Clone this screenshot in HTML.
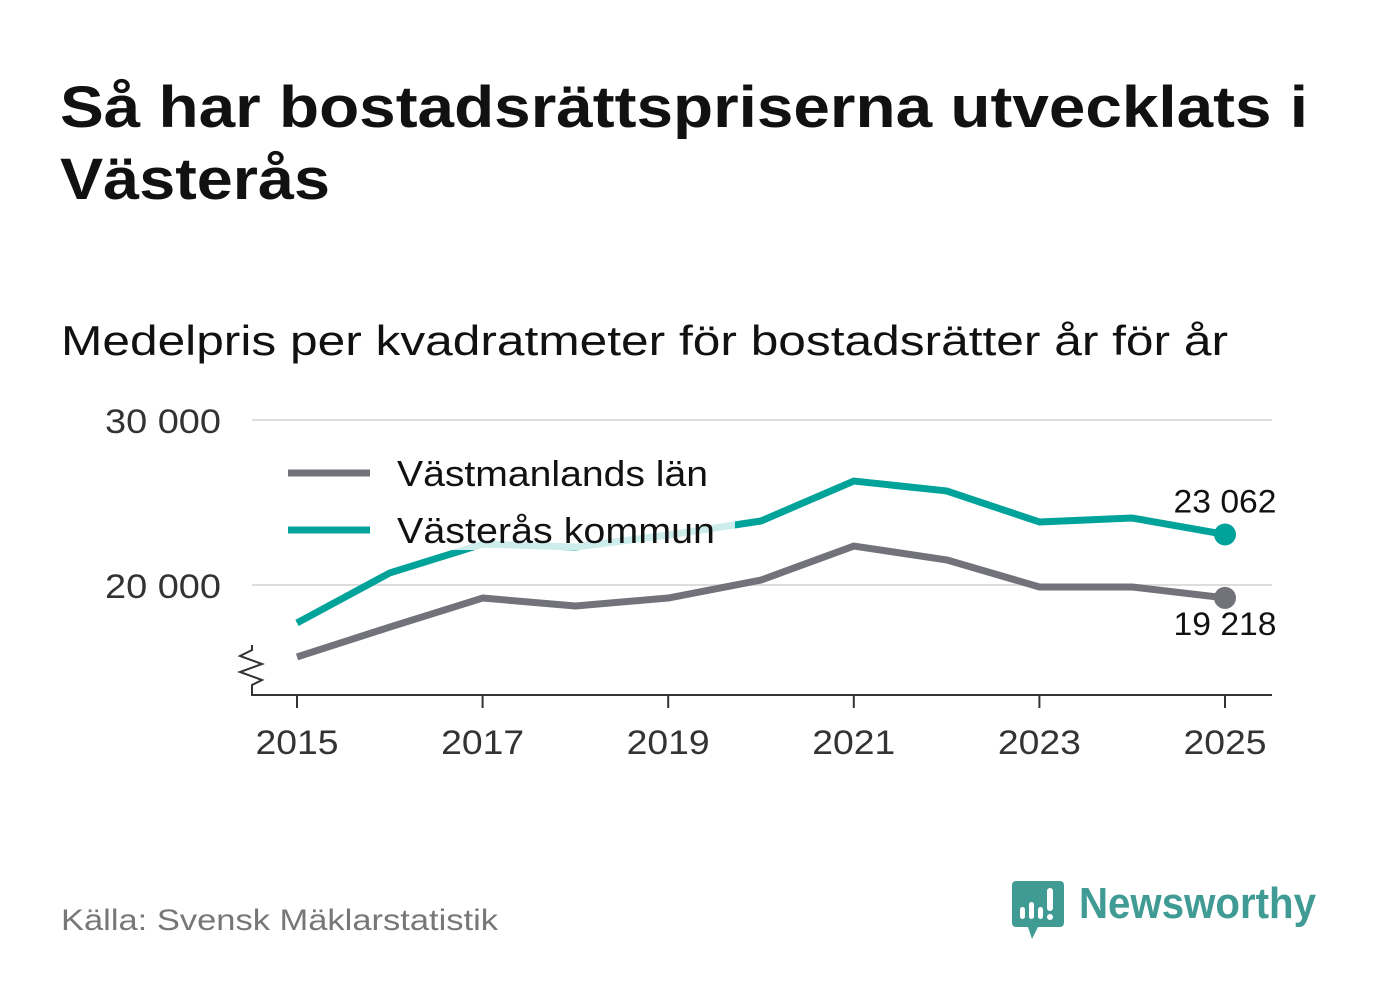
<!DOCTYPE html>
<html><head><meta charset="utf-8"><style>
body{margin:0;background:#fff;width:1382px;height:999px;overflow:hidden;font-family:"Liberation Sans",sans-serif}
</style></head><body>
<svg width="1382" height="999" xmlns="http://www.w3.org/2000/svg">
<text x="60" y="127" font-size="58" font-weight="bold" fill="#111" textLength="1248" lengthAdjust="spacingAndGlyphs">Så har bostadsrättspriserna utvecklats i</text>
<text x="60" y="199" font-size="58" font-weight="bold" fill="#111" textLength="270" lengthAdjust="spacingAndGlyphs">Västerås</text>
<text x="61" y="355" font-size="42" fill="#111" textLength="1167" lengthAdjust="spacingAndGlyphs">Medelpris per kvadratmeter för bostadsrätter år för år</text>
<g id="plot"></g>
<text x="61" y="930" font-size="30" fill="#777" textLength="437" lengthAdjust="spacingAndGlyphs">Källa: Svensk Mäklarstatistik</text>
<g>
<path d="M1016 881h44a4 4 0 0 1 4 4v38a4 4 0 0 1-4 4h-22l-6 12-4-12h-12a4 4 0 0 1-4-4v-38a4 4 0 0 1 4-4z" fill="#3f9b93"/>
<rect x="1020" y="907" width="5" height="12" rx="2.5" fill="#fff"/>
<rect x="1029" y="902" width="5" height="17" rx="2.5" fill="#fff"/>
<rect x="1038" y="907" width="5" height="12" rx="2.5" fill="#fff"/>
<rect x="1047" y="888" width="6" height="23" rx="3" fill="#fff"/>
<circle cx="1050" cy="917" r="3" fill="#fff"/>
<text x="1079" y="918" font-size="44" font-weight="bold" fill="#3f9b93" textLength="237" lengthAdjust="spacingAndGlyphs">Newsworthy</text>
</g>
</svg>
<script>
const years=[2015,2016,2017,2018,2019,2020,2021,2022,2023,2024,2025];
const lan=[15640,17450,19210,18730,19210,20300,22360,21520,19880,19880,19218];
const kommun=[17700,20730,22480,22300,23030,23880,26300,25700,23820,24060,23062];
const yTicks=[20000,30000];
const yTickLabels=["20 000","30 000"];
const xTicks=[2015,2017,2019,2021,2023,2025];
const NS="http://www.w3.org/2000/svg";
const g=document.getElementById('plot');
const x=v=>297+(v-2015)*92.8;
const y=v=>585-(v-20000)*0.0165;
function mk(t,a){const e=document.createElementNS(NS,t);for(const k in a)e.setAttribute(k,a[k]);g.appendChild(e);return e;}
yTicks.forEach((t,i)=>{
 const l=mk('line',{x1:252,x2:1272,y1:y(t),y2:y(t),stroke:'#ddd','stroke-width':2});
 
 
 const tx=mk('text',{x:221,y:y(t)+13,'font-size':34,fill:'#333','text-anchor':'end',textLength:116,lengthAdjust:'spacingAndGlyphs'});tx.textContent=yTickLabels[i];
 
 
});
const ax=mk('line',{x1:251,x2:1272,y1:695,y2:695,stroke:'#333','stroke-width':2});


const br=mk('path',{d:'M252 645 L252 650 L240 656 L262 664 L240 672 L262 680 L252 685 L252 695',fill:'none',stroke:'#333','stroke-width':2});


xTicks.forEach(t=>{
 const l=mk('line',{x1:x(t),x2:x(t),y1:695,y2:708,stroke:'#333','stroke-width':2});
 
 
 const tx=mk('text',{x:x(t),y:754,'font-size':34,fill:'#333','text-anchor':'middle',textLength:83,lengthAdjust:'spacingAndGlyphs'});tx.textContent=t;
 
 
});
function series(vals,col,name){
 const p=mk('polyline',{points:vals.map((v,i)=>x(years[i])+','+y(v)).join(' '),fill:'none',stroke:col,'stroke-width':7,'stroke-linejoin':'round'});
 
 
 const c=mk('circle',{cx:x(years[years.length-1]),cy:y(vals[vals.length-1]),r:11,fill:col});
 
 
}
series(lan,'#72727a','lan');
series(kommun,'#00a39a','kommun');
const bg=mk('rect',{x:405,y:505,width:330,height:45,fill:'#fff',opacity:0.8});


const legend=[['Västmanlands län','#72727a',473,311],['Västerås kommun','#00a39a',530,318]];
legend.forEach(([t,c,yy,w])=>{
 const l=mk('line',{x1:288,x2:370,y1:yy,y2:yy,stroke:c,'stroke-width':7});
 
 
 const tx=mk('text',{x:397,y:yy+13,'font-size':36,fill:'#111',textLength:w,lengthAdjust:'spacingAndGlyphs'});tx.textContent=t;
 
 
});
const l1=mk('text',{x:1225,y:y(kommun[10])-22,'font-size':32,fill:'#111','text-anchor':'middle',textLength:103,lengthAdjust:'spacingAndGlyphs'});l1.textContent='23 062';


const l2=mk('text',{x:1225,y:y(lan[10])+37,'font-size':32,fill:'#111','text-anchor':'middle',textLength:103,lengthAdjust:'spacingAndGlyphs'});l2.textContent='19 218';


</script>
</body></html>
